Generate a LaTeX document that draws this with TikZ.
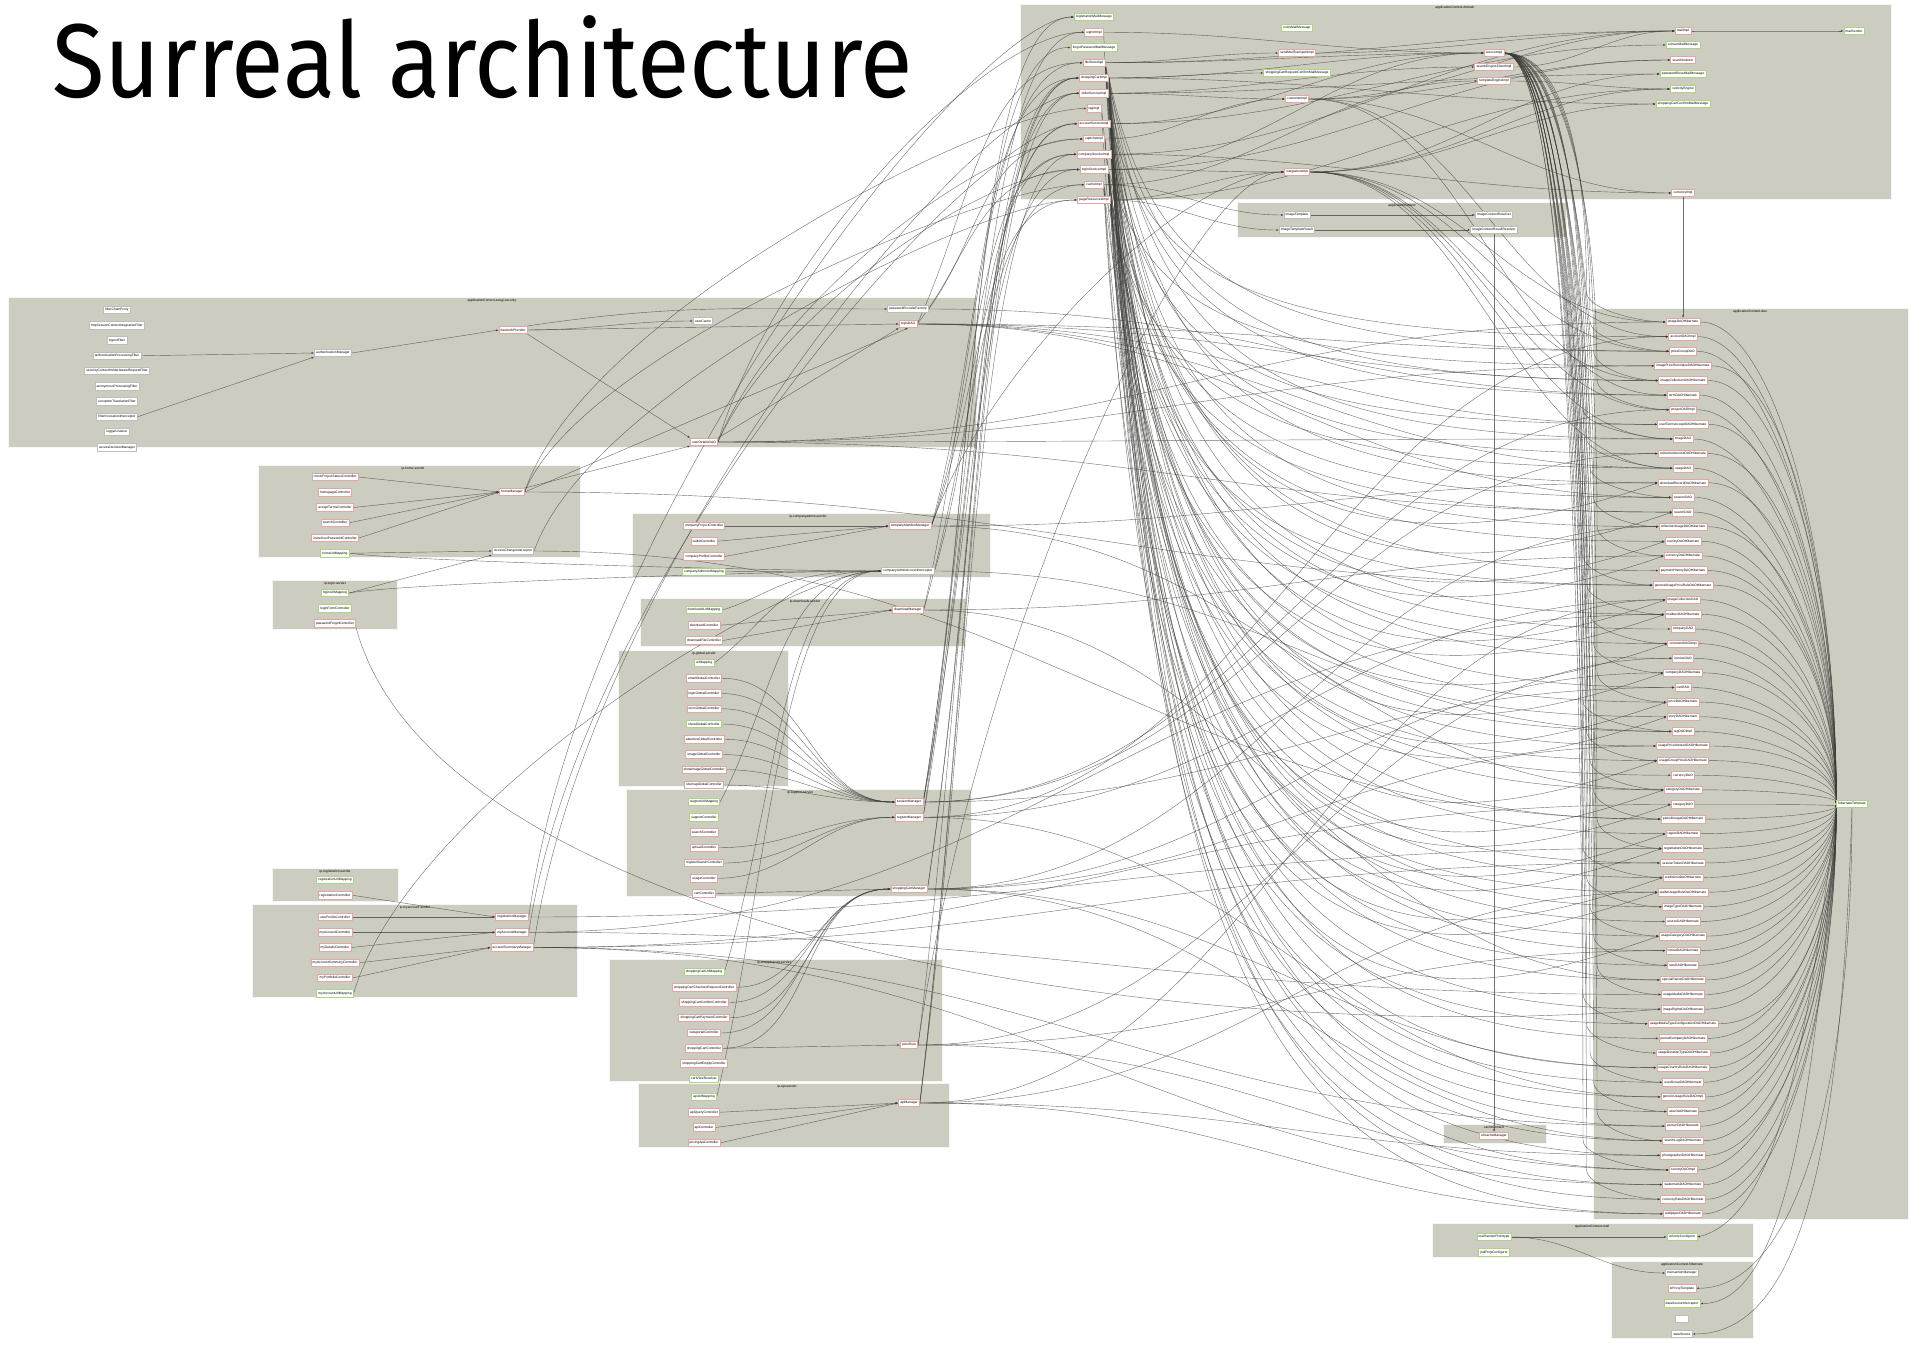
\documentclass[tikz,border=0pt]{standalone}
\usepackage{fontspec}
\setmainfont{Liberation Sans}
\newfontfamily\titlefont{Fira Sans}
\usepackage{graphicx}
\usetikzlibrary{arrows.meta,positioning,calc}

\definecolor{clusterbg}{RGB}{205,204,193}
\definecolor{beanred}{RGB}{224,168,162}
\definecolor{beangreen}{RGB}{172,212,132}
\definecolor{beangray}{RGB}{190,190,184}
\definecolor{wire}{RGB}{60,60,56}

\pgfdeclarelayer{clusters}
\pgfdeclarelayer{wires}
\pgfsetlayers{clusters,wires,main}

\begin{document}
\begin{tikzpicture}[x=1pt, y=-1pt,
    node distance=7.15pt,
    >={Latex[length=2.6pt,width=2.1pt]},
    bean/.style={draw=beanred, fill=white, line width=0.6pt, font=\fontsize{3.3}{3.6}\selectfont, inner xsep=1.8pt, inner ysep=0pt, minimum height=7.5pt},
    cfgbean/.style={bean, draw=beangreen},
    plainbean/.style={bean, draw=beangray},
    cluster/.style={fill=clusterbg, draw=white!80!clusterbg, line width=1pt},
    clabel/.style={font=\fontsize{3.3}{3.6}\selectfont, anchor=north, inner sep=0.5pt},
    dep/.style={draw=wire, draw opacity=0.72, line width=0.42pt, ->},
    hubarc/.style={to path={let \p1=(\tikztostart), \p2=(\tikztotarget) in .. controls +(70pt,0pt) and +(0pt,{0.55*(\y1-(\y2))}) .. (\tikztotarget) \tikztonodes}},
    dropdown/.style={to path={let \p1=(\tikztostart), \p2=(\tikztotarget) in .. controls +(45pt,{0.78*(\y2-(\y1))}) and +(-400pt,0pt) .. (\tikztotarget) \tikztonodes}},
    dipup/.style={to path={let \p1=(\tikztostart), \p2=(\tikztotarget) in .. controls +(40pt,{1.15*(\y2-(\y1))}) and +(-260pt,-90pt) .. (\tikztotarget) \tikztonodes}},
    riseup/.style={to path={let \p1=(\tikztostart), \p2=(\tikztotarget) in .. controls +(55pt,{0.45*(\y2-(\y1))}) and +(-100pt,0pt) .. (\tikztotarget) \tikztonodes}},
    across/.style={to path={let \p1=(\tikztostart), \p2=(\tikztotarget) in .. controls +({0.45*(\x2-(\x1))},0pt) and +({-0.45*(\x2-(\x1))},0pt) .. (\tikztotarget) \tikztonodes}},
    band/.style={to path={let \p1=(\tikztostart), \p2=(\tikztotarget) in .. controls +(60pt,0pt) and +(0pt,{0.5*(\y1-(\y2))}) .. ({#1*1pt},{\y2+30pt}) .. controls +(0pt,-18pt) and +(-24pt,0pt) .. (\tikztotarget) \tikztonodes}}]
  \useasboundingbox (0,0) rectangle (1911,1347);

  \node[anchor=base west, inner sep=0pt] (title) at (52,97) {\titlefont\fontsize{105}{110}\selectfont\scalebox{0.915}[1]{Surreal architecture}};

  % contexts
  \begin{pgfonlayer}{clusters}
    \draw[cluster] (1020,4) rectangle (1891,199);
    \draw[cluster] (1237,202) rectangle (1566,237);
    \draw[cluster] (8,297) rectangle (976,447);
    \draw[cluster] (1593,308) rectangle (1908,1219);
    \draw[cluster] (1443,1124) rectangle (1546,1143);
    \draw[cluster] (1432,1223) rectangle (1753,1257);
    \draw[cluster] (1611,1261) rectangle (1753,1338);
    \draw[cluster] (258,465) rectangle (580,557);
    \draw[cluster] (272,580) rectangle (397,629);
    \draw[cluster] (632,513) rectangle (990,577);
    \draw[cluster] (640,598) rectangle (965,646);
    \draw[cluster] (618,650) rectangle (788,786);
    \draw[cluster] (626,789) rectangle (971,896);
    \draw[cluster] (272,868) rectangle (398,901);
    \draw[cluster] (252,904) rectangle (577,997);
    \draw[cluster] (609,959) rectangle (942,1081);
    \draw[cluster] (638,1083) rectangle (949,1147);
  \end{pgfonlayer}
  \node[clabel] (lDomain) at (1455,5) {applicationContext-domain};
  \node[clabel] (lCtx) at (1402,203) {applicationContext};
  \node[clabel] (lSec) at (492,298) {applicationContext-acegi-security};
  \node[clabel] (lDao) at (1750,309) {applicationContext-dao};
  \node[clabel] (lCache) at (1494,1125) {cacheContext};
  \node[clabel] (lMail) at (1592,1224) {applicationContext-mail};
  \node[clabel] (lHib) at (1682,1262) {applicationContext-hibernate};
  \node[clabel] (lHome) at (413,466) {ip-home-servlet};
  \node[clabel] (lLogin) at (335,581) {ip-login-servlet};
  \node[clabel] (lAdmin) at (808,514) {ip-companyadmin-servlet};
  \node[clabel] (lDown) at (805,599) {ip-downloads-servlet};
  \node[clabel] (lGlobal) at (704,651) {ip-global-servlet};
  \node[clabel] (lSupport) at (800,790) {ip-support-servlet};
  \node[clabel] (lReg) at (335,869) {ip-registration-servlet};
  \node[clabel] (lAcc) at (415,905) {ip-myaccount-servlet};
  \node[clabel] (lCart) at (774,960) {ip-shoppingcart-servlet};
  \node[clabel] (lApi) at (787,1084) {ip-api-servlet};

  % domain
  \node[cfgbean] (d1) at (1094,17) {registrationMailMessage};
  \node[bean] (d2) [below=of d1] {signInImpl};
  \node[cfgbean] (d3) [below=of d2] {forgotPasswordMailMessage};
  \node[bean] (d4) [below=of d3] {fileStoreImpl};
  \node[bean] (d5) [below=of d4] {shoppingCartImpl};
  \node[bean] (d6) [below=of d5] {orderServiceImpl};
  \node[bean] (d7) [below=of d6] {tagImpl};
  \node[bean] (d8) [below=of d7] {accountServiceImpl};
  \node[bean] (d9) [below=of d8] {captchaImpl};
  \node[bean] (d10) [below=of d9] {companyServiceImpl};
  \node[bean] (d11) [below=of d10] {loginServiceImpl};
  \node[bean] (d12) [below=of d11] {cacheImpl};
  \node[bean] (d13) [below=of d12] {pageResourcesImpl};
  \node[cfgbean] (e1) at (1297,28) {inviteMailMessage};
  \node[bean] (e2) at (1297,53) {sendMailTransportImpl};
  \node[cfgbean] (e3) at (1297,73) {shoppingCartRequestConfirmMailMessage};
  \node[bean] (e4) at (1297,99) {customerImpl};
  \node[bean] (e5) at (1297,172) {integrationImpl};
  \node[bean] (f1) at (1494,53) {sourceImpl};
  \node[bean] (f2) at (1494,67) {searchEngineClientImpl};
  \node[bean] (f3) at (1494,81) {templateEngineImpl};
  \node[bean] (g1) at (1683,31) {mailImpl};
  \node[cfgbean] (g2) at (1683,45) {contactMailMessage};
  \node[bean] (g3) at (1683,60) {searchIndexer};
  \node[cfgbean] (g4) at (1683,74) {passwordResetMailMessage};
  \node[cfgbean] (g5) at (1683,89) {velocityEngine};
  \node[cfgbean] (g6) at (1683,104) {shoppingCartConfirmMailMessage};
  \node[bean] (g7) at (1683,193) {currencyImpl};
  \node[cfgbean] (h1) at (1854,31) {mailSender};

  \node[plainbean] (b1) at (1297,215) {ImageTemplate};
  \node[plainbean] (b2) at (1297,230) {ImageTemplateResult};
  \node[plainbean] (b3) at (1494,215) {ImageContentResolver};
  \node[plainbean] (b4) at (1494,230) {ImageContentResultResolver};

  % security
  \node[plainbean] (c1) at (117,310) {filterChainProxy};
  \node[plainbean] (c2) [below=of c1] {httpSessionContextIntegrationFilter};
  \node[plainbean] (c3) [below=of c2] {logoutFilter};
  \node[plainbean] (c4) [below=of c3] {authenticationProcessingFilter};
  \node[plainbean] (c5) [below=of c4] {securityContextHolderAwareRequestFilter};
  \node[plainbean] (c6) [below=of c5] {anonymousProcessingFilter};
  \node[plainbean] (c7) [below=of c6] {exceptionTranslationFilter};
  \node[plainbean] (c8) [below=of c7] {filterInvocationInterceptor};
  \node[plainbean] (c9) [below=of c8] {loggerListener};
  \node[plainbean] (c10) [below=of c9] {accessDecisionManager};
  \node[plainbean] (ca) at (333,353) {authenticationManager};
  \node[bean] (cb) at (513,330) {daoAuthProvider};
  \node[plainbean] (cc) at (703,321) {userCache};
  \node[plainbean] (cd) at (908,309) {passwordEncoderFactory};
  \node[bean] (ce) at (908,324) {loginDAO};
  \node[bean] (cf) at (704,442) {userDetailsDAO};

  % servlets
  \node[bean] (s1) at (335,477) {checkProjectStatusController};
  \node[bean] (s2) [below=of s1] {homepageController};
  \node[bean] (s3) [below=of s2] {acceptTermsController};
  \node[bean] (s4) [below=of s3] {searchController};
  \node[bean] (s5) [below=of s4] {inviteUserPasswordController};
  \node[cfgbean] (s6) [below=of s5] {homeUrlMapping};
  \node[bean] (sa) at (512,492) {homeManager};
  \node[plainbean] (sb) at (513,551) {AccessChangeInterceptor};

  \node[cfgbean] (t1) at (335,593) {loginUrlMapping};
  \node[cfgbean] (t2) [below=of t1] {loginFormController};
  \node[bean] (t3) [below=of t2] {passwordForgotController};

  \node[bean] (u1) at (704,526) {companyProjectController};
  \node[bean] (u2) [below=of u1] {walletController};
  \node[bean] (u3) [below=of u2] {companyProfileController};
  \node[cfgbean] (u4) [below=of u3] {companyAdminUrlMapping};
  \node[bean] (ua) at (910,526) {companyMemberManager};
  \node[plainbean] (ub) at (908,571) {companyAdminAccessInterceptor};

  \node[cfgbean] (v1) at (704,610) {downloadsUrlMapping};
  \node[bean] (v2) [below=of v1] {downloadController};
  \node[bean] (v3) [below=of v2] {downloadFileController};
  \node[bean] (va) at (908,610) {downloadManager};

  \node[cfgbean] (w1) at (704,663) {urlMapping};
  \node[bean] (w2) [below=of w1] {emailGlobalController};
  \node[bean] (w3) [below=of w2] {loginGlobalController};
  \node[bean] (w4) [below=of w3] {errorGlobalController};
  \node[cfgbean] (w5) [below=of w4] {showGlobalController};
  \node[bean] (w6) [below=of w5] {aboutUsGlobalController};
  \node[bean] (w7) [below=of w6] {imageGlobalController};
  \node[bean] (w8) [below=of w7] {showImageGlobalController};
  \node[bean] (w9) [below=of w8] {sitemapGlobalController};

  \node[cfgbean] (x1) at (704,802) {supportUrlMapping};
  \node[cfgbean] (x2) [below=of x1] {supportController};
  \node[bean] (x3) [below=of x2] {searchController};
  \node[bean] (x4) [below=of x3] {uploadController};
  \node[bean] (x5) [below=of x4] {registerSearchController};
  \node[bean] (x6) [below=of x5] {usageController};
  \node[bean] (x7) [below=of x6] {cartController};
  \node[bean] (xa) at (909,802) {sessionManager};
  \node[bean] (xb) [below=of xa] {registerManager};
  \node[bean] (xc) at (909,889) {shoppingCartManager};

  \node[cfgbean] (y1) at (335,880) {registrationUrlMapping};
  \node[bean] (y2) [below=of y1] {registrationController};

  \node[bean] (z1) at (335,917) {userProfileController};
  \node[bean] (z2) [below=of z1] {myAccountController};
  \node[bean] (z3) [below=of z2] {myDetailsController};
  \node[bean] (z4) [below=of z3] {myAccountSummaryController};
  \node[bean] (z5) [below=of z4] {myPortfolioController};
  \node[cfgbean] (z6) [below=of z5] {myAccountUrlMapping};
  \node[bean] (za) at (512,917) {registrationManager};
  \node[bean] (zb) [below=of za] {myAccountManager};
  \node[bean] (zc) [below=of zb] {accountSummaryManager};

  \node[cfgbean] (p1) at (704,972) {shoppingCartUrlMapping};
  \node[bean] (p2) [below=of p1] {shoppingCartCheckoutRequestController};
  \node[bean] (p3) [below=of p2] {shoppingCartConfirmController};
  \node[bean] (p4) [below=of p3] {shoppingCartPaymentController};
  \node[bean] (p5) [below=of p4] {viewportalController};
  \node[bean] (p6) [below=of p5] {shoppingCartController};
  \node[bean] (p7) [below=of p6] {shoppingCartEmptyController};
  \node[cfgbean] (p8) [below=of p7] {cartViewResolver};
  \node[bean] (pa) at (909,1045) {priceRule};

  \node[cfgbean] (q1) at (704,1097) {apiUrlMapping};
  \node[bean] (q2) [below=of q1] {apiQueryController};
  \node[bean] (q3) [below=of q2] {apiController};
  \node[bean] (q4) [below=of q3] {pricingApiController};
  \node[bean] (qa) at (909,1103) {apiManager};

  % dao
  \foreach \nm [count=\i] in {imageDAOHibernate, accountDAOImpl, priceGroupDAO, imagePriceRuleValueDAOHibernate, imageCollectionDAOHibernate, termDAOHibernate, projectDAOImpl, userTermsAcceptDAOHibernate, imageDAO, collectionAccessDAOHibernate, usageDAO, downloadRecordDAOHibernate, sessionDAO, searchDAO, collectionImageDAOHibernate, countryDAOHibernate, currencyDAOHibernate, paymentHistoryDAOHibernate, generalUsagePriceRuleDAOHibernate, imageCollectionDAO, mailboxDAOHibernate, companyDAO, commentDAOImpl, invoiceDAO, companyDAOHibernate, cartDAO, priceDAOHibernate, storyDAOHibernate, tagDAOImpl, usagePriceAmountDAOHibernate, usageGroupPriceDAOHibernate, currencyDAO, categoryDAOHibernate, categoryDAO, periodUsageDAOHibernate, regionDAOHibernate, registrationDAOHibernate, sessionTokenDAOHibernate, creditLimitDAOHibernate, walletUsageRuleDAOHibernate, imageTypeDAOHibernate, sourceDAOHibernate, usageCategoryDAOHibernate, formatDAOHibernate, sizeDAOHibernate, specialReportDAOHibernate, usageMediaDAOHibernate, imageRightsDAOHibernate, usageMediaTypeConfigurationDAOHibernate, periodCompanyDAOHibernate, usageDurationTypeDAOHibernate, usageCountryRuleDAOHibernate, userGroupDAOHibernate, genericUsageRuleDAOImpl, userDAOHibernate, personDAOHibernate, searchLogDAOHibernate, photographerDAOHibernate, countryDAOImpl, watermarkDAOHibernate, currencyRateDAOHibernate, wallpaperDAOHibernate}
    \node[bean] (r\i) at (1683,{322+14.62*(\i-1)}) {\nm};
  \node[cfgbean] (hub) at (1852,804) {hibernateTemplate};

  \node[bean] (m1) at (1494,1136) {ehcacheManager};
  \node[cfgbean] (k1) at (1494,1237) {mailSenderPrototype};
  \node[cfgbean] (k2) [below=of k1] {jndiPropConfigurer};
  \node[cfgbean] (k3) at (1682,1237) {velocityConfigurer};
  \node[plainbean] (j1) at (1682,1273) {transactionManager};
  \node[bean] (j2) [below=of j1] {txProxyTemplate};
  \node[cfgbean] (j3) [below=of j2] {dataSourceInterceptor};
  \node[plainbean, minimum width=13pt] (j4) [below=of j3] {};
  \node[plainbean] (j5) [below=of j4] {dataSource};

  \begin{pgfonlayer}{wires}
    % inside the contexts
    \draw[dep] (c4.east) -- (ca.west);
    \draw[dep] (c8.east) -- (ca.south west);
    \draw[dep] (ca.east) -- (cb.west);
    \draw[dep] (cb.east) to[out=0,in=180] (cc.west);
    \draw[dep] (cb.north east) .. controls +(150,-22) and +(-150,0) .. (cd.west);
    \draw[dep] (cb.east) -- (ce.west);
    \draw[dep] (cb.south east) -- (cf.north west);
    \draw[dep] (cf.north east) -- (ce.south west);
    \draw[dep] (sa.north east) -- (cf.south west);
    \draw[dep] (sa.east) -- (ce.south);
    \foreach \s in {s1,s3,s4,s5} \draw[dep] (\s.east) -- (sa.west);
    \draw[dep] (s6.east) -- (sb.west);
    \draw[dep] (t1.east) -- (sb.south west);
    \foreach \s in {u1,u2,u3} \draw[dep] (\s.east) -- (ua.west);
    \foreach \s in {v2,v3} \draw[dep] (\s.east) -- (va.west);
    \foreach \i in {2,...,9} \draw[dep] (w\i.east) to[out=0,in=180] (xa.west);
    \foreach \s in {x4,x5,x6} \draw[dep] (\s.east) to[out=0,in=180] (xb.west);
    \draw[dep] (x7.east) -- (xc.west);
    \draw[dep] (y2.east) -- (za.west);
    \draw[dep] (z1.east) -- (za.west);
    \foreach \s in {z2,z3} \draw[dep] (\s.east) -- (zb.west);
    \foreach \s in {z4,z5} \draw[dep] (\s.east) -- (zc.west);
    \draw[dep] (p6.east) -- (pa.west);
    \foreach \i in {2,...,6} \draw[dep] (p\i.east) to[out=0,in=180] (xc.west);
    \foreach \s in {q2,q3,q4} \draw[dep] (\s.east) -- (qa.west);
    \foreach \s in {s6,t1,u4,v1,w1,x1,z6,p1,q1} \draw[dep] (\s.east) to[riseup] (ub.west);
    \draw[dep] (t3.south east) .. controls +(80,300) and +(-500,40) .. (r48.west);

    % domain
    \foreach \s/\t in {d2/f1, d4/e2, d4/f1, d4/g1, d5/e3, d5/f1, d5/g6, d6/e4, d6/f2, d6/g4, d8/g2, d8/f1, d10/g1, d10/g7, d11/f1, d11/g3, d12/f3, d13/g5, e2/g1, e4/g1, e4/g3, e4/g7, f2/g1, f3/g5, e5/g4, e5/g6, e5/g5, d11/e5, d9/e4, d13/e5, d12/b1, d13/b2, g1/h1}
      \draw[dep] (\s.east) to[out=0,in=180] (\t.west);
    \draw[dep] (b1) -- (b3);
    \draw[dep] (b2) -- (b4);
    \draw[dep] (b4) -- (m1);
    \draw[dep] (g7) -- (r1);
    \foreach \t in {r1,r3,r5,r7,r9,r11} \draw[dep] (e5.east) to[across] (\t.west);
    \foreach \t in {r2,r6} \draw[dep] (e4.east) to[across] (\t.west);

    % services to dao
    \foreach \s/\t in {d4/r5, d4/r12, d4/r21, d4/r30, d4/r41, d4/r52, d5/r3, d5/r9, d5/r18, d5/r26, d5/r35, d5/r44, d5/r56, d6/r6, d6/r15, d6/r24, d6/r33, d6/r42, d6/r50, d6/r58, d6/r61, d7/r27, d8/r2, d8/r10, d8/r22, d8/r36, d8/r46, d8/r54, d9/r38, d10/r8, d10/r16, d10/r28, d10/r39, d10/r48, d10/r57, d10/r62, d11/r4, d11/r13, d11/r23, d11/r31, d11/r43, d11/r53, d11/r60, d12/r11, d12/r29, d12/r45, d12/r55, d13/r14, d13/r19, d13/r32, d13/r40, d13/r49, d13/r59}
      \draw[dep] (\s.east) to[dropdown] (\t.west);
    \foreach \s/\t in {d4/r25, d5/r37, d6/r20, d8/r34, d10/r23, d11/r17, d12/r40, d13/r28, d2/r36, d4/r14, d5/r27, d6/r31, d8/r43, d10/r12, d11/r39, d13/r21, d9/r16, d7/r33}
      \draw[dep] (\s.east) to[dipup] (\t.west);
    \foreach \b [count=\k] in {1,3,...,61} {
      \pgfmathsetmacro\bx{1583+mod(\k,5)*3.5}
      \draw[dep] (f1.east) to[band=\bx] (r\b.west);
    }

    % managers to services
    \foreach \s/\t in {ua/d10, ua/d13, ua/d5, va/d4, va/d12, xa/d2, xa/d11, xa/d8, xa/d3, xb/d1, xb/d8, xc/d5, xc/d6, za/d1, zb/d8, zc/d6, qa/d5, qa/d10, qa/d6, pa/d5, cf/d11, cf/d2, ce/d11, ce/d4, cd/d9, ub/d10, sb/d13, sa/d7, sa/d12, cf/d9, ua/e5, pa/e5}
      \draw[dep] (\s.east) to[riseup] (\t.west);

    % managers to dao
    \foreach \s/\t in {xa/r7, xa/r10, xa/r26, xb/r2, xb/r20, xb/r54, xc/r25, xc/r30, xc/r15, xc/r52, xc/r57, za/r37, zb/r47, zb/r21, zc/r34, zc/r38, zc/r56, zc/r60, qa/r40, qa/r20, qa/r58, qa/r62, pa/r24, pa/r44, pa/r59, ua/r12, ua/r33, va/r17, va/r46, sa/r19, cf/r1, cf/r4, cf/r9, cf/r14, ce/r3, ce/r5, ce/r8, ce/r11, ce/r13, cd/r6, ub/r29, sb/r35}
      \draw[dep] (\s.east) to[across] (\t.west);

    % dao to template
    \foreach \j in {1,...,62} \draw[dep] (r\j.east) to[hubarc] (hub.west);

    % template and mail
    \draw[dep] (hub.south) .. controls +(0,280) and +(100,0) .. (j2.east);
    \draw[dep] (hub.south) .. controls +(-10,300) and +(120,0) .. (j5.east);
    \draw[dep] (hub.south west) .. controls +(-20,260) and +(90,0) .. (j3.east);
    \draw[dep] (hub.south west) .. controls +(-30,240) and +(80,-20) .. (k3.east);
    \draw[dep] (k1.east) -- (k3.west);
    \draw[dep] (k1.east) to[out=0,in=180] (j1.west);
  \end{pgfonlayer}
\end{tikzpicture}
\end{document}
